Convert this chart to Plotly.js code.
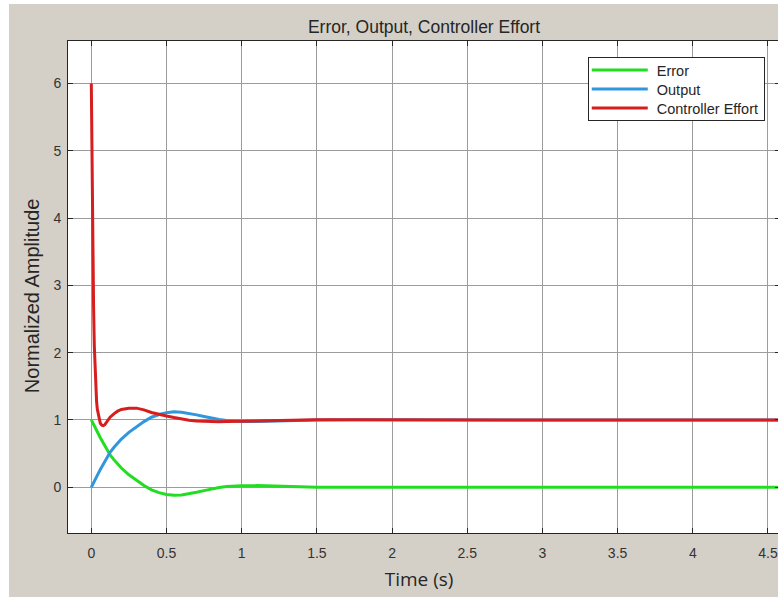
<!DOCTYPE html>
<html>
<head>
<meta charset="utf-8">
<script src="https://cdn.plot.ly/plotly-3.0.1.min.js"></script>
<style>
html,body{margin:0;padding:0;background:#ffffff;overflow:hidden;width:778px;height:597px;}
#chart{position:absolute;left:9px;top:4px;width:800px;height:593px;}
</style>
</head>
<body>
<div id="chart"></div>
<script>
var time = [0, 0.005, 0.01, 0.015, 0.02, 0.025, 0.03, 0.035, 0.04, 0.05, 0.06, 0.07, 0.08, 0.09, 0.1,
            0.125, 0.15, 0.175, 0.2, 0.25, 0.3, 0.35, 0.4, 0.45, 0.5, 0.55, 0.6, 0.65, 0.7, 0.75, 0.8,
            0.85, 0.9, 0.95, 1.0, 1.1, 1.2, 1.3, 1.4, 1.5, 1.75, 2, 2.5, 3, 3.5, 4, 4.5, 5];

var output = [0, 0.02, 0.045, 0.068, 0.09, 0.112, 0.135, 0.157, 0.178, 0.22, 0.265, 0.305, 0.345, 0.39, 0.43,
              0.52, 0.59, 0.655, 0.715, 0.815, 0.9, 0.975, 1.04, 1.08, 1.108, 1.12, 1.115, 1.1, 1.075, 1.05, 1.025,
              1.005, 0.99, 0.982, 0.978, 0.976, 0.982, 0.99, 0.996, 1.0, 1.002, 1.0, 1.0, 1.0, 1.0, 1.0, 1.0, 1.0];

var error = [1, 0.98, 0.955, 0.932, 0.91, 0.888, 0.865, 0.843, 0.822, 0.78, 0.735, 0.695, 0.655, 0.61, 0.57,
             0.48, 0.41, 0.345, 0.285, 0.185, 0.1, 0.025, -0.04, -0.08, -0.108, -0.12, -0.115, -0.1, -0.075, -0.05, -0.025,
             -0.005, 0.01, 0.018, 0.022, 0.024, 0.018, 0.01, 0.004, 0.0, -0.002, 0.0, 0.0, 0.0, 0.0, 0.0, 0.0, 0.0];

var effort = [6, 4.6, 3.5, 2.7, 2.1, 1.7, 1.45, 1.28, 1.16, 1.02, 0.95, 0.922, 0.915, 0.93, 0.965,
              1.04, 1.09, 1.13, 1.155, 1.175, 1.175, 1.15, 1.11, 1.08, 1.058, 1.035, 1.012, 0.996, 0.985, 0.978, 0.975,
              0.974, 0.975, 0.977, 0.98, 0.987, 0.995, 1.0, 1.003, 1.003, 1.001, 1.0, 1.0, 1.0, 1.0, 1.0, 1.0, 1.0];

var seriesNames = ['Error', 'Output', 'Controller Effort'];
var xTicks = [0, 0.5, 1, 1.5, 2, 2.5, 3, 3.5, 4, 4.5];
var xTickText = ['0', '0.5', '1', '1.5', '2', '2.5', '3', '3.5', '4', '4.5'];
var yTicks = [0, 1, 2, 3, 4, 5, 6];

var colors = ['rgb(34,221,34)', 'rgb(48,150,222)', 'rgb(214,30,30)'];
var ys = [error, output, effort];

var data = ys.map(function(y, i) {
  return {
    x: time, y: y, type: 'scatter', mode: 'lines', name: seriesNames[i],
    line: {color: colors[i], width: 3}
  };
});

var axisCommon = {
  showgrid: true, gridcolor: '#9c9c9c', gridwidth: 1,
  zeroline: false, showline: true, linecolor: '#262626', linewidth: 1,
  ticks: 'inside', ticklen: 5, tickcolor: '#262626', mirror: 'ticks',
  tickfont: {family: 'Liberation Sans, Arial, sans-serif', size: 14, color: '#333333'}
};

var layout = {
  width: 800, height: 593,
  paper_bgcolor: '#d4d0c8', plot_bgcolor: '#ffffff',
  margin: {l: 59, r: 29, t: 37, b: 64},
  showlegend: true,
  title: {text: 'Error, Output, Controller Effort', x: 0.5, xref: 'paper', xanchor: 'center', y: 0.961, yanchor: 'middle',
          font: {family: 'Liberation Sans, Arial, sans-serif', size: 17.5, color: '#262626'}},
  xaxis: Object.assign({}, axisCommon, {
    range: [-0.155, 4.58], tickvals: xTicks, ticktext: xTickText, ticklabelstandoff: 7,
    title: {text: 'Time (s)<span style="color:rgba(0,0,0,0)">.i</span>', standoff: 12, font: {family: 'Open Sans, sans-serif', size: 19, color: '#262626'}}
  }),
  yaxis: Object.assign({}, axisCommon, {
    range: [-0.68, 6.63], tickvals: yTicks, ticklabelstandoff: 3,
    title: {text: 'Normalized Amplitude<span style="color:rgba(0,0,0,0)">.-.</span>', standoff: 8, font: {family: 'Liberation Sans, Arial, sans-serif', size: 20, color: '#262626'}}
  }),
  legend: {
    x: 0.730, y: 0.9675, xanchor: 'left', yanchor: 'top',
    bgcolor: '#ffffff', bordercolor: '#262626', borderwidth: 1,
    font: {family: 'Liberation Sans, Arial, sans-serif', size: 14.5, color: '#262626'},
    itemwidth: 58, tracegroupgap: 0
  }
};

Plotly.newPlot('chart', data, layout, {staticPlot: true, displayModeBar: false}).then(function() {
  var legend = document.querySelector('.legend');
  if (!legend) return;
  legend.querySelectorAll('.legendlines path').forEach(function(p) { p.setAttribute('d', 'M3,0h56'); });
  var traces = legend.querySelectorAll('.traces');
  traces.forEach(function(t, i) {
    var tr = t.getAttribute('transform') || '';
    var m = tr.match(/translate\(\s*([-\d.]+)/);
    var tx = m ? parseFloat(m[1]) : 0;
    t.setAttribute('transform', 'translate(' + tx + ',' + (13 + 19 * i) + ')');
  });
  var bg = legend.querySelector('rect.bg');
  if (bg) bg.setAttribute('height', 63);
});
</script>
</body>
</html>
